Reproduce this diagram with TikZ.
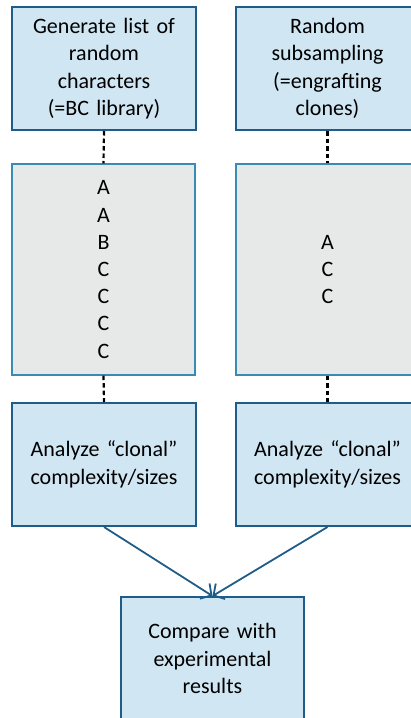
\documentclass[tikz,border=0pt]{standalone}
\usepackage{fontspec}
\setmainfont{Carlito}
\usetikzlibrary{arrows.meta}
\definecolor{boxfill}{HTML}{D0E6F3}
\definecolor{boxline}{HTML}{1F5C87}
\definecolor{grayfill}{HTML}{E7E8E8}
\definecolor{grayline}{HTML}{3A8AB4}
\tikzset{
  bluebox/.style={draw=boxline, line width=2pt, fill=boxfill, minimum width=184pt, minimum height=123pt, inner sep=0pt, align=center, text width=180pt, font=\fontsize{22}{27.5}\selectfont},
  graybox/.style={draw=grayline, line width=1.2pt, fill=grayfill, minimum width=183pt, minimum height=211pt, inner sep=0pt, align=center, text width=175pt, font=\fontsize{22}{27.2}\selectfont},
  dashlink/.style={draw=black, line width=2.2pt, dash pattern=on 4.5pt off 3pt},
  arrowlink/.style={draw=boxline, line width=1.8pt, -{Straight Barb[length=8pt,width=18pt,line width=1.8pt]}}
}
\begin{document}
\begin{tikzpicture}[x=1pt,y=-1pt]
\useasboundingbox (0,0) rectangle (411,718);
\clip (0,0) rectangle (411,718);
\node[bluebox] (g1) at (104,68.5) {Generate list of\\random\\characters\\(=BC library)};
\node[bluebox] (g2) at (327.5,68.5) {Random\\subsampling\\(=engrafting\\clones)};
\node[graybox] (l1) at (103.5,269.5) {A\\A\\B\\C\\C\\C\\C};
\node[graybox] (l2) at (327.5,269.5) {A\\C\\C};
\node[bluebox] (a1) at (104,464.5) {Analyze “clonal”\\complexity/sizes};
\node[bluebox] (a2) at (327.5,464.5) {Analyze “clonal”\\complexity/sizes};
\node[bluebox, minimum width=183pt] (c) at (212.5,658.5) {Compare with\\experimental\\results};
\draw[dashlink] (g1.south) -- (l1.north);
\draw[dashlink] (g2.south) -- (l2.north);
\draw[dashlink] (l1.south) -- (a1.north);
\draw[dashlink] (l2.south) -- (a2.north);
\draw[arrowlink] (a1.south) -- (c.north);
\draw[arrowlink] (a2.south) -- (c.north);
\end{tikzpicture}
\end{document}
